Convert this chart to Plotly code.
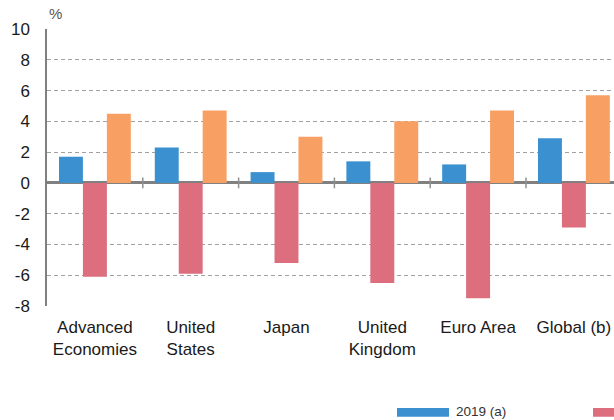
import plotly.graph_objects as go

categories = ["Advanced<br>Economies", "United<br>States", "Japan", "United<br>Kingdom", "Euro Area", "Global (b)"]
series_names = ["2019 (a)", "2020 (c)", "2021 (c)"]
values_2019 = [1.7, 2.3, 0.7, 1.4, 1.2, 2.9]
values_2020 = [-6.1, -5.9, -5.2, -6.5, -7.5, -2.9]
values_2021 = [4.5, 4.7, 3.0, 4.0, 4.7, 5.7]
y_ticks = [10, 8, 6, 4, 2, 0, -2, -4, -6, -8]
y_unit = "%"

colors = ["#3b91d0", "#dc6e7e", "#f89f63"]
W, H = 614, 420
ML, MR, MT, MB = 47, 0, 29, 114
cat_px = 95.8
pw = W - ML - MR
ph = H - MT - MB

fig = go.Figure()
for name, vals, col in zip(series_names, [values_2019, values_2020, values_2021], colors):
    fig.add_trace(go.Bar(x=list(range(len(categories))), y=vals, name=name,
                         marker=dict(color=col, line=dict(width=0)), showlegend=False,
                         hoverinfo="skip"))

xmax = -0.5 + pw / cat_px
fig.update_layout(
    width=W, height=H,
    margin=dict(l=ML, r=MR, t=MT, b=MB),
    paper_bgcolor="white", plot_bgcolor="white",
    barmode="group", bargap=0.25, bargroupgap=0,
    font=dict(family="Liberation Sans, Arial, sans-serif", color="#1a1a1a"),
    xaxis=dict(range=[-0.5, xmax], tickmode="array", tickvals=list(range(len(categories))),
               ticktext=categories, showgrid=False, zeroline=False, showline=False,
               ticks="", ticklabelstandoff=9, tickfont=dict(size=17, color="#1a1a1a")),
    yaxis=dict(range=[-8, 10], tickmode="array", tickvals=y_ticks,
               ticktext=[str(v) for v in y_ticks],
               showgrid=True, gridcolor="#a0a0a0", gridwidth=1, griddash="4px,3px",
               zeroline=True, zerolinecolor="#808080", zerolinewidth=2.5,
               showline=True, linecolor="#808080", linewidth=1.5,
               ticks="", ticklabelstandoff=12, tickfont=dict(size=17, color="#1a1a1a")),
)

# boundary tick marks on the zero line
for k in range(len(categories) - 1):
    fig.add_shape(type="line", xref="x", yref="y", x0=k + 0.5, x1=k + 0.5, y0=-0.35, y1=0.35,
                  line=dict(color="#909090", width=1.5))

# unit label
fig.add_annotation(text=y_unit, xref="paper", yref="paper", x=0, y=1, xanchor="left", yanchor="bottom",
                   yshift=5, showarrow=False, font=dict(size=15, color="#555555"))

# custom legend (wide swatches); items beyond the right edge are cut off as in the reference
def px_x(p):
    return (p - ML) / pw

def px_y(p):
    return (MT + ph - p) / ph

leg_x0 = 397
leg_step = 196
for i, (name, col) in enumerate(zip(series_names, colors)):
    x0 = leg_x0 + i * leg_step
    if x0 >= W:
        continue
    fig.add_shape(type="rect", xref="paper", yref="paper", x0=px_x(x0), x1=px_x(x0 + 52),
                  y0=px_y(416.7), y1=px_y(408), fillcolor=col, line=dict(width=0))
    if x0 + 57 < W:
        fig.add_annotation(text=name, xref="paper", yref="paper", x=px_x(x0 + 57), y=px_y(411),
                           xanchor="left", yanchor="middle", showarrow=False,
                           font=dict(size=13.5, color="#333333"))

fig.write_html("out.html", config={"displayModeBar": False},
               post_script="document.body.style.margin='0px';document.body.style.overflow='hidden';")
